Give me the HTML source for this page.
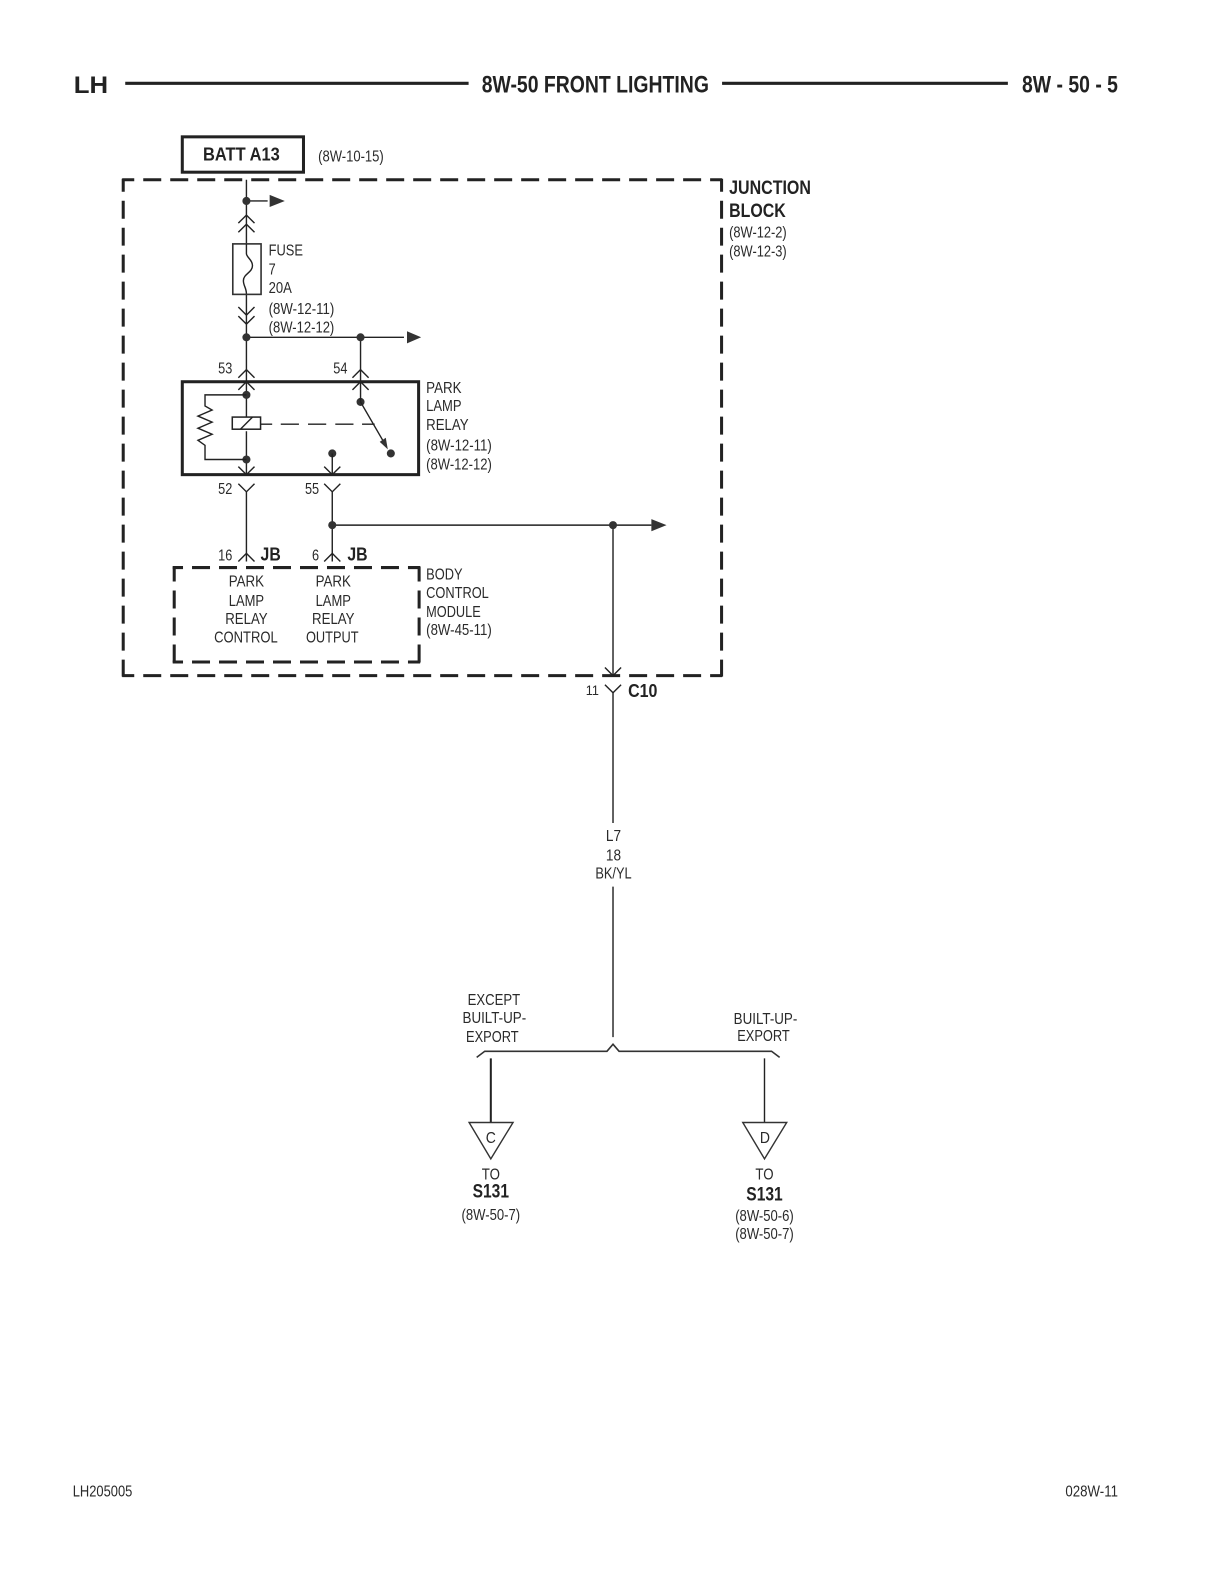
<!DOCTYPE html>
<html><head><meta charset="utf-8"><style>
html,body{margin:0;padding:0;background:#fff}
svg{display:block}
text{font-family:"Liberation Sans",sans-serif;fill:#2a2a2a;font-size:15.5px}
.b{font-weight:bold;fill:#222}
.m{text-anchor:middle}
.w{fill:none;stroke:#222;stroke-width:1.4}
.d{fill:#333}
</style></head><body>
<svg width="1224" height="1584" viewBox="0 0 1212 1568.500" xmlns="http://www.w3.org/2000/svg">
<text class="b" x="73" y="92" style="font-size:24px" textLength="34" lengthAdjust="spacingAndGlyphs">LH</text>
<path d="M124 82.500H464M715 82.500H998" stroke="#222" stroke-width="3" fill="none"/>
<text class="b" x="477" y="91.500" style="font-size:24px" textLength="225" lengthAdjust="spacingAndGlyphs">8W-50 FRONT LIGHTING</text>
<text class="b" x="1012" y="91.500" style="font-size:24px" textLength="95" lengthAdjust="spacingAndGlyphs">8W - 50 - 5</text>

<rect x="180.500" y="135.500" width="120" height="35" fill="none" stroke="#222" stroke-width="3"/>
<text class="b" x="201" y="159" style="font-size:18.500px" textLength="76" lengthAdjust="spacingAndGlyphs">BATT A13</text>
<text x="315" y="160" textLength="65" lengthAdjust="spacingAndGlyphs">(8W-10-15)</text>

<g fill="none" stroke="#222" stroke-width="3" stroke-dasharray="17.820 8.910">
<path d="M121 178H715M121 669H715" stroke-dashoffset="5.900"/>
<path d="M122 177V670M714.500 177V670" stroke-dashoffset="5"/>
<path d="M171 562H416M171 655.500H416" stroke-dashoffset="7.600"/>
<path d="M172.500 561V657M415 561V657" stroke-dashoffset="3"/>
</g>

<text class="b" x="722" y="192" style="font-size:19px" textLength="81" lengthAdjust="spacingAndGlyphs">JUNCTION</text>
<text class="b" x="722" y="215" style="font-size:19px" textLength="56" lengthAdjust="spacingAndGlyphs">BLOCK</text>
<text x="722" y="235" textLength="57" lengthAdjust="spacingAndGlyphs">(8W-12-2)</text>
<text x="722" y="254" textLength="57" lengthAdjust="spacingAndGlyphs">(8W-12-3)</text>

<!-- top feed -->
<path class="w" d="M244 178V241M244 292V378M244 199H265M244 334H400M357 334V378"/>
<circle class="d" cx="244" cy="199" r="4"/><circle class="d" cx="244" cy="334" r="4"/><circle class="d" cx="357" cy="334" r="4"/>
<path class="d" d="M267 193L282 199L267 205Z"/><path class="d" d="M403 328L417 334L403 340Z"/>
<path class="w" d="M236 221L244 213L252 221M236 230L244 222L252 230"/>
<path class="w" d="M236 304L244 312L252 304M236 313L244 321L252 313"/>
<rect x="230.500" y="241.500" width="28" height="50" fill="none" stroke="#333" stroke-width="1.600"/>
<path class="w" d="M244 241.500V251C244 255 250 257 250 263C250 270 241 271 241 278C241 283 244 285 244 291"/>
<text x="266" y="253" textLength="34" lengthAdjust="spacingAndGlyphs">FUSE</text>
<text x="266" y="272" textLength="7" lengthAdjust="spacingAndGlyphs">7</text>
<text x="266" y="290" textLength="23" lengthAdjust="spacingAndGlyphs">20A</text>
<text x="266" y="311" textLength="65" lengthAdjust="spacingAndGlyphs">(8W-12-11)</text>
<text x="266" y="329" textLength="65" lengthAdjust="spacingAndGlyphs">(8W-12-12)</text>

<!-- relay -->
<text x="216" y="370" textLength="14" lengthAdjust="spacingAndGlyphs">53</text>
<text x="330" y="370" textLength="14" lengthAdjust="spacingAndGlyphs">54</text>
<path class="w" d="M236 374L244 366L252 374M349 374L357 366L365 374"/>
<rect x="180.500" y="378" width="234" height="92" fill="none" stroke="#222" stroke-width="3"/>
<path class="w" d="M236 386L244 378L252 386M349 386L357 378L365 386"/>
<path class="w" d="M244 378V413M244 427V470"/>
<circle class="d" cx="244" cy="391" r="4"/><circle class="d" cx="244" cy="455" r="4"/>
<path class="w" d="M244 391H203V402L210 406L196 412L210 418L196 424L210 430L196 436L203 441V455H244"/>
<rect x="230" y="413" width="28" height="12" fill="none" stroke="#222" stroke-width="1.500"/>
<path class="w" d="M238 425L250 413"/>
<path class="w" d="M258 420H269.500M278 420H296M305 420H323M332 420H350M358.500 420H371"/>
<circle class="d" cx="357" cy="398" r="4"/>
<path class="w" d="M357 378V398L379 436"/>
<path class="d" d="M376 437.500L382 433.500L384 445Z"/>
<circle class="d" cx="387" cy="449" r="4"/>
<circle class="d" cx="329" cy="449" r="4"/>
<path class="w" d="M329 449V470"/>
<path class="w" d="M236 462L244 470L252 462M321 462L329 470L337 462"/>
<text x="422" y="389" textLength="35" lengthAdjust="spacingAndGlyphs">PARK</text>
<text x="422" y="407" textLength="35" lengthAdjust="spacingAndGlyphs">LAMP</text>
<text x="422" y="426" textLength="42" lengthAdjust="spacingAndGlyphs">RELAY</text>
<text x="422" y="446" textLength="65" lengthAdjust="spacingAndGlyphs">(8W-12-11)</text>
<text x="422" y="465" textLength="65" lengthAdjust="spacingAndGlyphs">(8W-12-12)</text>

<!-- below relay -->
<text x="216" y="489" textLength="14" lengthAdjust="spacingAndGlyphs">52</text>
<text x="302" y="489" textLength="14" lengthAdjust="spacingAndGlyphs">55</text>
<path class="w" d="M236 479L244 487L252 479M321 479L329 487L337 479"/>
<path class="w" d="M244 487V556M329 487V556M329 520H645M607 520V669"/>
<circle class="d" cx="329" cy="520" r="4"/><circle class="d" cx="607" cy="520" r="4"/>
<path class="d" d="M645 514L660 520L645 526Z"/>
<path class="w" d="M236 556L244 548L252 556M321 556L329 548L337 556"/>
<text x="216" y="555" textLength="14" lengthAdjust="spacingAndGlyphs">16</text>
<text x="309" y="555" textLength="7" lengthAdjust="spacingAndGlyphs">6</text>
<text class="b" x="258" y="555" style="font-size:18px" textLength="20" lengthAdjust="spacingAndGlyphs">JB</text>
<text class="b" x="344" y="555" style="font-size:18px" textLength="20" lengthAdjust="spacingAndGlyphs">JB</text>

<text class="m" x="244" y="581" textLength="35" lengthAdjust="spacingAndGlyphs">PARK</text>
<text class="m" x="244" y="600" textLength="35" lengthAdjust="spacingAndGlyphs">LAMP</text>
<text class="m" x="244" y="618" textLength="42" lengthAdjust="spacingAndGlyphs">RELAY</text>
<text class="m" x="243.500" y="636" textLength="63" lengthAdjust="spacingAndGlyphs">CONTROL</text>
<text class="m" x="330" y="581" textLength="35" lengthAdjust="spacingAndGlyphs">PARK</text>
<text class="m" x="330" y="600" textLength="35" lengthAdjust="spacingAndGlyphs">LAMP</text>
<text class="m" x="330" y="618" textLength="42" lengthAdjust="spacingAndGlyphs">RELAY</text>
<text class="m" x="329" y="636" textLength="52" lengthAdjust="spacingAndGlyphs">OUTPUT</text>
<text x="422" y="574" textLength="36" lengthAdjust="spacingAndGlyphs">BODY</text>
<text x="422" y="592" textLength="62" lengthAdjust="spacingAndGlyphs">CONTROL</text>
<text x="422" y="611" textLength="54" lengthAdjust="spacingAndGlyphs">MODULE</text>
<text x="422" y="629" textLength="65" lengthAdjust="spacingAndGlyphs">(8W-45-11)</text>

<!-- C10 -->
<path class="w" d="M599 661L607 669L615 661M599 678L607 686L615 678"/>
<path class="w" d="M607 686V815M607 878V1027"/>
<text x="580" y="688" style="font-size:14px" textLength="13" lengthAdjust="spacingAndGlyphs">11</text>
<text class="b" x="622" y="690" style="font-size:18.500px" textLength="29" lengthAdjust="spacingAndGlyphs">C10</text>
<text class="m" x="607.500" y="833" textLength="15" lengthAdjust="spacingAndGlyphs">L7</text>
<text class="m" x="607.500" y="852" textLength="15" lengthAdjust="spacingAndGlyphs">18</text>
<text class="m" x="607.500" y="870" textLength="36" lengthAdjust="spacingAndGlyphs">BK/YL</text>

<!-- branch -->
<path d="M472 1047L480 1041H601L607 1034L613 1041H764L772 1047" fill="none" stroke="#333" stroke-width="1.600"/>
<text class="m" x="489" y="995" textLength="52" lengthAdjust="spacingAndGlyphs">EXCEPT</text>
<text class="m" x="489.500" y="1013" textLength="63" lengthAdjust="spacingAndGlyphs">BUILT-UP-</text>
<text class="m" x="487.500" y="1032" textLength="52" lengthAdjust="spacingAndGlyphs">EXPORT</text>
<text class="m" x="758" y="1014" textLength="63" lengthAdjust="spacingAndGlyphs">BUILT-UP-</text>
<text class="m" x="756" y="1031" textLength="52" lengthAdjust="spacingAndGlyphs">EXPORT</text>
<path d="M486 1048V1112" stroke="#222" stroke-width="2" fill="none"/>
<path class="w" d="M757 1048V1112"/>
<path d="M464.500 1111.500H508L486 1147.500Z" fill="none" stroke="#333" stroke-width="1.400"/>
<path d="M735.500 1111.500H779L757 1147.500Z" fill="none" stroke="#333" stroke-width="1.400"/>
<text class="m" x="486" y="1132" textLength="10" lengthAdjust="spacingAndGlyphs">C</text>
<text class="m" x="757.500" y="1132" textLength="10" lengthAdjust="spacingAndGlyphs">D</text>
<text class="m" x="486" y="1168" textLength="18" lengthAdjust="spacingAndGlyphs">TO</text>
<text class="m" x="757" y="1168" textLength="18" lengthAdjust="spacingAndGlyphs">TO</text>
<text class="b m" x="486" y="1186" style="font-size:19px" textLength="36" lengthAdjust="spacingAndGlyphs">S131</text>
<text class="b m" x="757" y="1189" style="font-size:19px" textLength="36" lengthAdjust="spacingAndGlyphs">S131</text>
<text class="m" x="486" y="1208" textLength="58" lengthAdjust="spacingAndGlyphs">(8W-50-7)</text>
<text class="m" x="757" y="1209" textLength="58" lengthAdjust="spacingAndGlyphs">(8W-50-6)</text>
<text class="m" x="757" y="1227" textLength="58" lengthAdjust="spacingAndGlyphs">(8W-50-7)</text>

<text x="72" y="1482" textLength="59" lengthAdjust="spacingAndGlyphs">LH205005</text>
<text x="1055" y="1482" textLength="52" lengthAdjust="spacingAndGlyphs">028W-11</text>
</svg>
</body></html>
